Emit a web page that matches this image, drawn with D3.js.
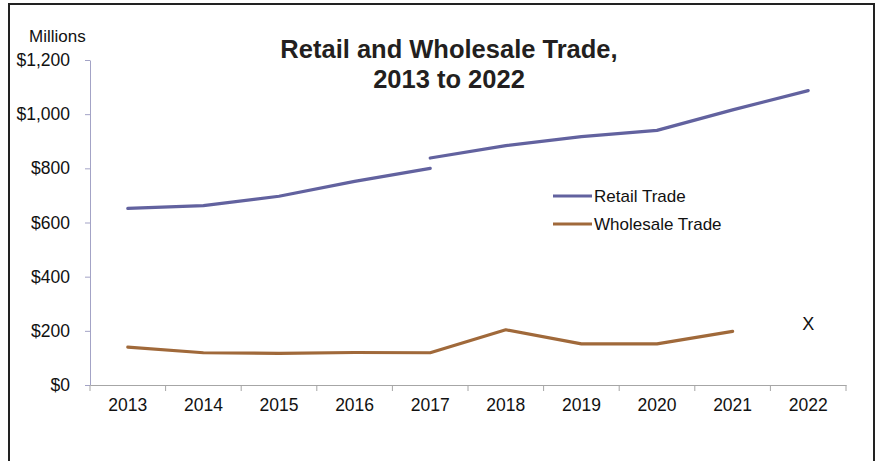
<!DOCTYPE html>
<html><head><meta charset="utf-8">
<script src="https://cdn.jsdelivr.net/npm/d3@7"></script>
<style>body{margin:0;background:#fff}svg{display:block}</style>
</head><body>
<svg id="c" width="876" height="461"></svg>
<script>
const years = ["2013","2014","2015","2016","2017","2018","2019","2020","2021","2022"];
const retailOld = [652, 662, 697, 752, 800];            // 2013–2017
const retailOldYears = ["2013","2014","2015","2016","2017"];
const retailNew = [838, 884, 917, 940, 1016, 1087];     // 2017–2022
const retailNewYears = ["2017","2018","2019","2020","2021","2022"];
const wholesale = [140, 119, 117, 120, 119, 204, 152, 152, 198]; // 2013–2021
const wholesaleYears = ["2013","2014","2015","2016","2017","2018","2019","2020","2021"];
const suppressed = [{year:"2022", label:"X", value:203}];
const yTicks = [0, 200, 400, 600, 800, 1000, 1200];
const seriesNames = ["Retail Trade", "Wholesale Trade"];
const titleLines = ["Retail and Wholesale Trade,", "2013 to 2022"];

const colRetail = "#62629f", colWhole = "#a0693a";
const svg = d3.select("#c");
const font = "'Liberation Sans', Arial, sans-serif";

svg.append("rect").attr("x",9).attr("y",4).attr("width",865).attr("height",480)
  .attr("fill","none").attr("stroke","#222").attr("stroke-width",2);

const x = d3.scaleBand().domain(years).range([90, 846]).padding(0);
const y = d3.scaleLinear().domain([0, 1200]).range([385, 60]);
const cx = d => x(d) + x.bandwidth()/2;

// y axis
const ya = svg.append("g").attr("transform","translate(90,0)")
  .call(d3.axisLeft(y).tickValues(yTicks).tickSize(5).tickSizeOuter(0).tickPadding(15)
    .tickFormat(d => "$" + d3.format(",")(d)));
ya.select(".domain").attr("stroke","#a3a3c6");
ya.selectAll(".tick line").attr("stroke","#a3a3c6");
ya.selectAll("text").attr("font-family",font).attr("font-size",17.5).attr("fill","#111");

// x axis
const xa = svg.append("g").attr("transform","translate(0,385)")
  .call(d3.axisBottom(x).tickSize(0).tickPadding(14));
xa.select(".domain").attr("stroke","#a6a6a6");
xa.selectAll("text").attr("font-family",font).attr("font-size",17.5).attr("fill","#111");
// boundary ticks
const bounds = years.map(d => x(d)).concat([x(years[years.length-1]) + x.bandwidth()]);
xa.selectAll(".btick").data(bounds).enter().append("line").attr("class","btick")
  .attr("x1",d=>d).attr("x2",d=>d).attr("y1",0).attr("y2",6).attr("stroke","#a6a6a6");

svg.append("text").attr("x",29).attr("y",42).attr("font-family",font).attr("font-size",17)
  .attr("fill","#111").text("Millions");

// lines
const line = d3.line().x(d => cx(d[0])).y(d => y(d[1]));
const addLine = (ys, vs, col) => svg.append("path")
  .attr("d", line(ys.map((yy,i)=>[yy, vs[i]])))
  .attr("fill","none").attr("stroke",col).attr("stroke-width",3.2).attr("stroke-linecap","round").attr("stroke-linejoin","round");
addLine(retailOldYears, retailOld, colRetail);
addLine(retailNewYears, retailNew, colRetail);
addLine(wholesaleYears, wholesale, colWhole);

svg.selectAll(".sup").data(suppressed).enter().append("text")
  .attr("x", d=>cx(d.year)).attr("y", d=>y(d.value)).attr("text-anchor","middle")
  .attr("font-family",font).attr("font-size",18).attr("fill","#111").text(d=>d.label);

// title
svg.selectAll(".title").data(titleLines).enter().append("text").attr("class","title")
  .attr("text-anchor","middle").attr("font-family",font)
  .attr("font-weight",700).attr("font-size",25.5).attr("fill","#231f20")
  .attr("x",449).attr("y",(d,i)=>58 + i*30).text(d=>d);

// legend
const lg = svg.append("g");
[colRetail, colWhole].forEach((c,i) => {
  const yy = 196 + i*28;
  lg.append("line").attr("x1",553).attr("x2",592).attr("y1",yy).attr("y2",yy)
    .attr("stroke",c).attr("stroke-width",3.2);
  lg.append("text").attr("x",594).attr("y",yy+6).attr("font-family",font).attr("font-size",17)
    .attr("fill","#111").text(seriesNames[i]);
});
</script>
</body></html>
